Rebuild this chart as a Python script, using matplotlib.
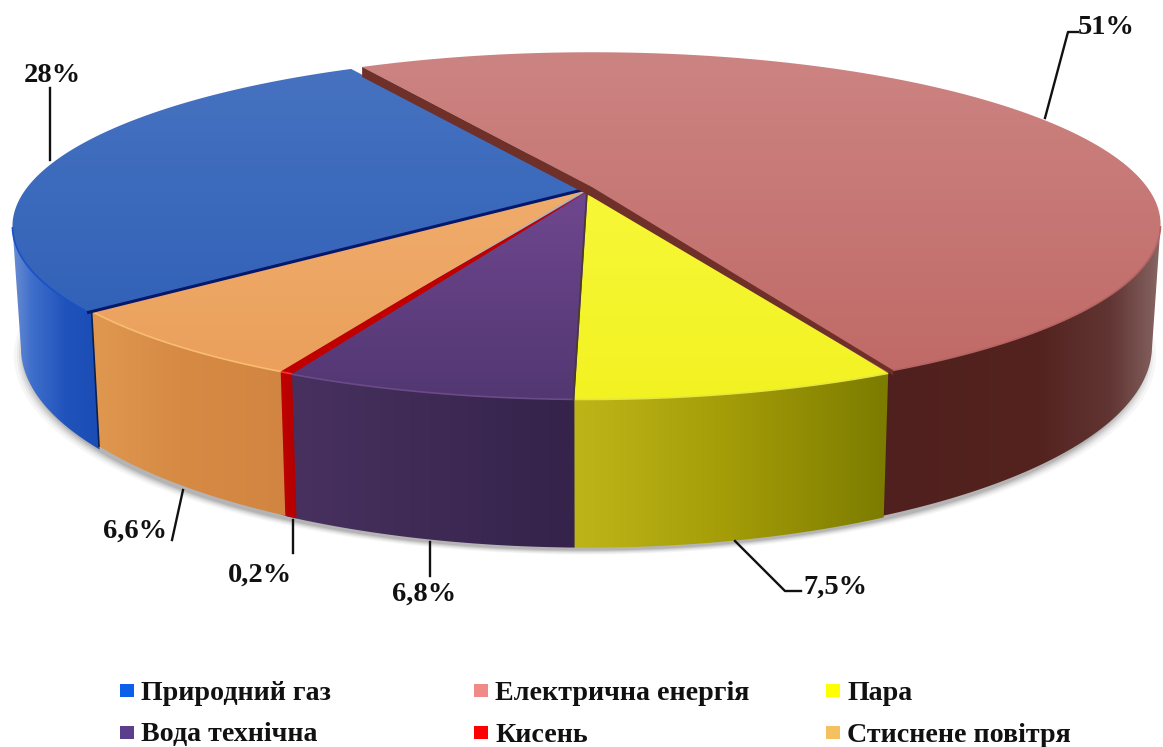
import numpy as np
import matplotlib
matplotlib.use("Agg")
import matplotlib.pyplot as plt
from matplotlib.patches import Polygon, Rectangle
from matplotlib.colors import LinearSegmentedColormap, to_rgb

categories = ["Електрична енергія", "Пара", "Вода технічна", "Кисень", "Стиснене повітря", "Природний газ"]
shares = [51, 7.5, 6.8, 0.2, 6.6, 28]
start_angle = 119.5

CX, CY, A, B, K, H = 585, 190, 555, 164, 0.217, 116
BOTTOM_SCALE = 0.985

offsets = [(7, -3), (2, 0), (3, 0), (5, 0), (1, -1), (-4, -1)]
top_colors = [("#CC8482", "#C06A67"), ("#F7F738", "#F2F222"), ("#70478F", "#523772"),
              ("#C00000", "#C00000"), ("#F0AC6C", "#EBA05C"), ("#4672C0", "#3262B8")]
wall_stops = [
    [(888, "#50201E"), (1040, "#54231F"), (1110, "#613533"), (1150, "#7E5B59"), (1163, "#8A6C6A")],
    [(575, "#BDB518"), (720, "#A69E08"), (885, "#7C7C00")],
    [(290, "#48315F"), (570, "#35234B")],
    [(280, "#C00000"), (300, "#B00000")],
    [(90, "#E09850"), (180, "#D68A44"), (290, "#D28540")],
    [(12, "#6E8FD2"), (32, "#3F6FCB"), (65, "#2153BC"), (100, "#1A4CB4")],
]
rim_colors = ["#B46462", "#E6E640", "#6A4A88", "#FF3030", "#F8BC72", "#1A50C8"]
draw_order = [0, 5, 1, 2, 3, 4]
extend_start = [0, 0, 0, 0, 0, 1.0]
extend_end = [0.8, 0.8, 0.8, 0.8, 0, 0]

legend_names = ["Природний газ", "Електрична енергія", "Пара", "Вода технічна", "Кисень", "Стиснене повітря"]
legend_colors = ["#0B5FE8", "#F08A88", "#FFFF00", "#5B3F8C", "#FF0000", "#F5C060"]
legend_x = [120, 474, 826, 120, 474, 826]
legend_y = [691, 691, 691, 733, 733, 733]

pct_labels = ["51%", "7,5%", "6,8%", "0,2%", "6,6%", "28%"]
label_xy = [(1106, 28), (835, 587), (424, 594), (260, 575), (135, 531), (52, 75)]
leaders = [[(1045, 118), (1068, 32), (1078, 32)], [(735, 541), (785, 591), (801, 591)],
           [(430, 542), (430, 576)], [(293, 520), (293, 553)], [(183, 490), (172, 540)],
           [(50, 88), (50, 160)]]

fig = plt.figure(figsize=(11.63, 7.47), dpi=100, facecolor="white")
ax = fig.add_axes([0, 0, 1, 1])
ax.set_axis_off()


def project(deg, off=(0, 0), z=0.0, grow=0.0):
    t = np.radians(deg)
    X, Y = np.cos(t), np.sin(t)
    w = 1 + K * Y
    s = 1 - (1 - BOTTOM_SCALE) * z
    x = CX + off[0] + (A + grow) * s * X / w
    y = CY + off[1] + (-B * Y + H * z) / w
    return np.column_stack([x, y])


def gradient_fill(pts, stops=None, vertical=None, zorder=1):
    patch = Polygon(pts, closed=True, facecolor="none", edgecolor="none", zorder=zorder)
    ax.add_patch(patch)
    x0, x1 = pts[:, 0].min(), pts[:, 0].max()
    y0, y1 = pts[:, 1].min(), pts[:, 1].max()
    if vertical is not None:
        cm = LinearSegmentedColormap.from_list("g", vertical)
        arr = np.linspace(0, 1, 256)[:, None]
    else:
        xs = np.linspace(x0, x1, 256)
        cols = np.array([to_rgb(c) for _, c in stops])
        at = [p for p, _ in stops]
        rgb = np.column_stack([np.interp(xs, at, cols[:, i]) for i in range(3)])
        cm = LinearSegmentedColormap.from_list("g", rgb)
        arr = np.linspace(0, 1, 256)[None, :]
    im = ax.imshow(arr, extent=(x0, x1, y1, y0), cmap=cm, aspect="auto", zorder=zorder,
                   interpolation="bilinear")
    im.set_clip_path(patch)


# soft ground shadow, built from the bottom outline of the disk
all_t = np.linspace(0, 360, 361)
for grow, dy, alpha in [(11, 7, 0.05), (8, 6, 0.07), (6, 5, 0.10), (4, 4, 0.14), (2, 3, 0.2)]:
    ax.add_patch(Polygon(project(all_t, (0, dy), z=1, grow=grow), closed=True,
                         facecolor="#606060", edgecolor="none", alpha=alpha, zorder=0.5))

edges = start_angle - np.cumsum([0] + shares) * 3.6
edges[-1] = start_angle - 360
z = 1
strip = None
for i in draw_order:
    off = offsets[i]
    a0, a1 = edges[i], edges[i + 1]
    ts = np.linspace(a0 + extend_start[i], a1 - extend_end[i], 300)
    wall_t = ts[np.sin(np.radians(ts)) <= -K]
    top_arc = project(wall_t, off)
    bot_arc = project(wall_t, off, z=1)
    gradient_fill(np.vstack([top_arc, bot_arc[::-1]]), stops=wall_stops[i], zorder=z)
    z += 0.1
    apex = np.array([[CX + off[0], CY + off[1]]])
    arc = project(ts, off)
    gradient_fill(np.vstack([apex, arc]), vertical=top_colors[i], zorder=z)
    z += 0.1
    ax.plot(top_arc[:, 0], top_arc[:, 1], color=rim_colors[i], lw=1.2, zorder=z,
            solid_capstyle="butt")
    z += 0.1
    if i == 0:
        end = project(np.array([a1]), off)[0]
        strip = np.vstack([arc[0], apex[0], end, end + [0, 5], apex[0] + [0, 10], arc[0] + [0, 10]])

# cut edges between slices
apex_blue = np.array([CX + offsets[5][0], CY + offsets[5][1]])
rim_blue = project(np.array([edges[5]]), offsets[5])[0]
ax.plot([apex_blue[0] + 1, rim_blue[0] + 2], [apex_blue[1] + 1, rim_blue[1] + 1], color="#03176B", lw=2.2, zorder=z)
apex_y = np.array([CX + offsets[1][0], CY + offsets[1][1]])
rim_y = project(np.array([edges[2]]), offsets[1])[0]
ax.plot([apex_y[0], rim_y[0]], [apex_y[1], rim_y[1]], color="#4A3A30", lw=1.2, zorder=z)
wall_top = project(np.array([edges[5]]), offsets[4])[0]
wall_bot = project(np.array([edges[5]]), offsets[4], z=1)[0]
ax.plot([wall_top[0], wall_bot[0]], [wall_top[1], wall_bot[1]], color="#0A2050", lw=1.2, zorder=z)
ax.add_patch(Polygon(strip, closed=True, facecolor="#6E3029", edgecolor="none", zorder=z + 0.5))

for pts in leaders:
    p = np.array(pts)
    ax.plot(p[:, 0], p[:, 1], color="#111111", lw=1.7, zorder=z + 1)

serif = "Liberation Serif"
for txt, (x, y) in zip(pct_labels, label_xy):
    ax.text(x, y, txt, family=serif, weight="bold", fontsize=20.5, ha="center", va="center",
            color="#111111", zorder=z + 2)

for name, col, x, y in zip(legend_names, legend_colors, legend_x, legend_y):
    ax.add_patch(Rectangle((x, y - 7), 14, 13, facecolor=col, edgecolor="none", zorder=z + 2))
    ax.text(x + 21, y + 2, name, family=serif, weight="bold", fontsize=20.2, ha="left", va="center",
            color="#111111", zorder=z + 2)

ax.set_xlim(0, 1163)
ax.set_ylim(747, 0)
fig.savefig("out.png", dpi=100, facecolor="white")
